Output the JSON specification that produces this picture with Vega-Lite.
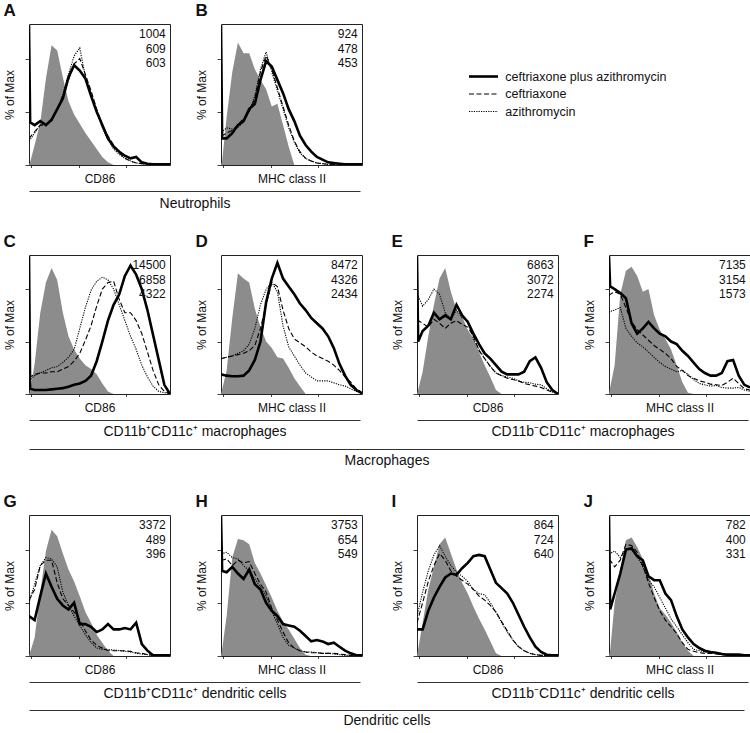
{
"$schema": "https://vega.github.io/schema/vega-lite/v6.json",
"padding": {"left": 3, "top": 1, "right": 2, "bottom": 0},
"background": "white",
"datasets": {
"stats": [
{"p":"A","t":"1004\n609\n603"},{"p":"B","t":"924\n478\n453"},{"p":"C","t":"14500\n6858\n4322"},{"p":"D","t":"8472\n4326\n2434"},{"p":"E","t":"6863\n3072\n2274"},{"p":"F","t":"7135\n3154\n1573"},{"p":"G","t":"3372\n489\n396"},{"p":"H","t":"3753\n654\n549"},{"p":"I","t":"864\n724\n640"},{"p":"J","t":"782\n400\n331"}
],
"legend": [
{"s":"combo","label":"ceftriaxone plus azithromycin"},{"s":"cef","label":"ceftriaxone"},{"s":"azi","label":"azithromycin"}
],
"curves": [
{"p":"A","x":0,"iso":0,"combo":105,"cef":20,"azi":18},
{"p":"A","x":0.8,"iso":2,"combo":32,"cef":21,"azi":19},
{"p":"A","x":4,"iso":15,"combo":30,"cef":25,"azi":24},
{"p":"A","x":8,"iso":32,"combo":33,"cef":30,"azi":30},
{"p":"A","x":12,"iso":65,"combo":30,"cef":30,"azi":31},
{"p":"A","x":16,"iso":90,"combo":34,"cef":33,"azi":33},
{"p":"A","x":20,"iso":86,"combo":42,"cef":42,"azi":42},
{"p":"A","x":24,"iso":66,"combo":50,"cef":52,"azi":53},
{"p":"A","x":28,"iso":48,"combo":66,"cef":64,"azi":68},
{"p":"A","x":32,"iso":38,"combo":75,"cef":76,"azi":82},
{"p":"A","x":36,"iso":31,"combo":71,"cef":80,"azi":88},
{"p":"A","x":40,"iso":24,"combo":65,"cef":68,"azi":66},
{"p":"A","x":44,"iso":18,"combo":52,"cef":56,"azi":54},
{"p":"A","x":48,"iso":12,"combo":40,"cef":42,"azi":40},
{"p":"A","x":52,"iso":6,"combo":30,"cef":30,"azi":28},
{"p":"A","x":56,"iso":2,"combo":20,"cef":22,"azi":19},
{"p":"A","x":60,"iso":0,"combo":14,"cef":15,"azi":12},
{"p":"A","x":64,"iso":0,"combo":10,"cef":9,"azi":8},
{"p":"A","x":68,"iso":0,"combo":7,"cef":5,"azi":5},
{"p":"A","x":72,"iso":0,"combo":5,"cef":3,"azi":3},
{"p":"A","x":76,"iso":0,"combo":6,"cef":1.5,"azi":1.5},
{"p":"A","x":80,"iso":0,"combo":2,"cef":1,"azi":1},
{"p":"A","x":84,"iso":0,"combo":1,"cef":0.5,"azi":0.5},
{"p":"A","x":88,"iso":0,"combo":0.5,"cef":0.5,"azi":0.5},
{"p":"A","x":92,"iso":0,"combo":0.5,"cef":0.5,"azi":0.5},
{"p":"A","x":96,"iso":0,"combo":0.5,"cef":0.5,"azi":0.5},
{"p":"A","x":100,"iso":0,"combo":0.5,"cef":0.5,"azi":0.5},
{"p":"B","x":0,"iso":0,"combo":105,"cef":22,"azi":25},
{"p":"B","x":0.8,"iso":3,"combo":20,"cef":22,"azi":25},
{"p":"B","x":4,"iso":36,"combo":20,"cef":24,"azi":28},
{"p":"B","x":8,"iso":70,"combo":24,"cef":26,"azi":27},
{"p":"B","x":12,"iso":92,"combo":30,"cef":30,"azi":28},
{"p":"B","x":16,"iso":84,"combo":33,"cef":35,"azi":33},
{"p":"B","x":20,"iso":84,"combo":42,"cef":40,"azi":40},
{"p":"B","x":24,"iso":72,"combo":46,"cef":50,"azi":52},
{"p":"B","x":28,"iso":64,"combo":64,"cef":70,"azi":72},
{"p":"B","x":32,"iso":57,"combo":78,"cef":82,"azi":85},
{"p":"B","x":36,"iso":44,"combo":74,"cef":72,"azi":70},
{"p":"B","x":40,"iso":46,"combo":64,"cef":58,"azi":56},
{"p":"B","x":44,"iso":30,"combo":54,"cef":44,"azi":42},
{"p":"B","x":48,"iso":14,"combo":42,"cef":30,"azi":28},
{"p":"B","x":52,"iso":0,"combo":33,"cef":18,"azi":17},
{"p":"B","x":56,"iso":0,"combo":22,"cef":10,"azi":9},
{"p":"B","x":60,"iso":0,"combo":15,"cef":5,"azi":5},
{"p":"B","x":64,"iso":0,"combo":10,"cef":3,"azi":3},
{"p":"B","x":68,"iso":0,"combo":6,"cef":1.5,"azi":1.5},
{"p":"B","x":72,"iso":0,"combo":4,"cef":1,"azi":1},
{"p":"B","x":76,"iso":0,"combo":2,"cef":0.5,"azi":0.5},
{"p":"B","x":80,"iso":0,"combo":1.5,"cef":0.5,"azi":0.5},
{"p":"B","x":84,"iso":0,"combo":1,"cef":0.5,"azi":0.5},
{"p":"B","x":88,"iso":0,"combo":0.5,"cef":0.5,"azi":0.5},
{"p":"B","x":92,"iso":0,"combo":0.5,"cef":0.5,"azi":0.5},
{"p":"B","x":96,"iso":0,"combo":0.5,"cef":0.5,"azi":0.5},
{"p":"B","x":100,"iso":0,"combo":0.5,"cef":0.5,"azi":0.5},
{"p":"C","x":0,"iso":0,"combo":105,"cef":12,"azi":10},
{"p":"C","x":0.8,"iso":2,"combo":4,"cef":13,"azi":11},
{"p":"C","x":4,"iso":23,"combo":3,"cef":15,"azi":14},
{"p":"C","x":8,"iso":62,"combo":3,"cef":16,"azi":16},
{"p":"C","x":12,"iso":85,"combo":3,"cef":16,"azi":18},
{"p":"C","x":16,"iso":96,"combo":3.5,"cef":17,"azi":20},
{"p":"C","x":20,"iso":87,"combo":4,"cef":17,"azi":21},
{"p":"C","x":24,"iso":62,"combo":4.5,"cef":19,"azi":24},
{"p":"C","x":28,"iso":44,"combo":5.5,"cef":21,"azi":28},
{"p":"C","x":32,"iso":34,"combo":7,"cef":25,"azi":34},
{"p":"C","x":36,"iso":27,"combo":8,"cef":31,"azi":50},
{"p":"C","x":40,"iso":22,"combo":10,"cef":41,"azi":66},
{"p":"C","x":44,"iso":19,"combo":14,"cef":52,"azi":79},
{"p":"C","x":48,"iso":15,"combo":25,"cef":67,"azi":86},
{"p":"C","x":52,"iso":8,"combo":40,"cef":80,"azi":89},
{"p":"C","x":56,"iso":2,"combo":56,"cef":85,"azi":87},
{"p":"C","x":60,"iso":0,"combo":68,"cef":86,"azi":80},
{"p":"C","x":64,"iso":0,"combo":76,"cef":72,"azi":68},
{"p":"C","x":68,"iso":0,"combo":90,"cef":62,"azi":56},
{"p":"C","x":72,"iso":0,"combo":98,"cef":62,"azi":44},
{"p":"C","x":76,"iso":0,"combo":91,"cef":56,"azi":34},
{"p":"C","x":80,"iso":0,"combo":80,"cef":46,"azi":22},
{"p":"C","x":84,"iso":0,"combo":64,"cef":32,"azi":13},
{"p":"C","x":88,"iso":0,"combo":45,"cef":18,"azi":6},
{"p":"C","x":92,"iso":0,"combo":26,"cef":7,"azi":2},
{"p":"C","x":96,"iso":0,"combo":7,"cef":2,"azi":1},
{"p":"C","x":100,"iso":0,"combo":0,"cef":0,"azi":0.5},
{"p":"D","x":0,"iso":0,"combo":15,"cef":27,"azi":27},
{"p":"D","x":4,"iso":18,"combo":14,"cef":28,"azi":28},
{"p":"D","x":8,"iso":58,"combo":13.5,"cef":29,"azi":29},
{"p":"D","x":12,"iso":92,"combo":13.5,"cef":30,"azi":31},
{"p":"D","x":16,"iso":88,"combo":14,"cef":31,"azi":33},
{"p":"D","x":20,"iso":85,"combo":18,"cef":33,"azi":38},
{"p":"D","x":24,"iso":65,"combo":26,"cef":37,"azi":50},
{"p":"D","x":28,"iso":51,"combo":40,"cef":50,"azi":68},
{"p":"D","x":32,"iso":40,"combo":70,"cef":68,"azi":80},
{"p":"D","x":36,"iso":35,"combo":88,"cef":85,"azi":85},
{"p":"D","x":40,"iso":28,"combo":100,"cef":82,"azi":78},
{"p":"D","x":44,"iso":27,"combo":88,"cef":64,"azi":52},
{"p":"D","x":48,"iso":20,"combo":82,"cef":50,"azi":36},
{"p":"D","x":52,"iso":12,"combo":76,"cef":42,"azi":29},
{"p":"D","x":56,"iso":6,"combo":69,"cef":39,"azi":22},
{"p":"D","x":60,"iso":0,"combo":64,"cef":36,"azi":16},
{"p":"D","x":64,"iso":0,"combo":58,"cef":32,"azi":13},
{"p":"D","x":68,"iso":0,"combo":54,"cef":29,"azi":10},
{"p":"D","x":72,"iso":0,"combo":50,"cef":27,"azi":10},
{"p":"D","x":76,"iso":0,"combo":44,"cef":25,"azi":10},
{"p":"D","x":80,"iso":0,"combo":35,"cef":22,"azi":8.5},
{"p":"D","x":84,"iso":0,"combo":23,"cef":18,"azi":7},
{"p":"D","x":88,"iso":0,"combo":14,"cef":13,"azi":6},
{"p":"D","x":92,"iso":0,"combo":7,"cef":9,"azi":4},
{"p":"D","x":96,"iso":0,"combo":3,"cef":4,"azi":2},
{"p":"D","x":100,"iso":0,"combo":0.5,"cef":1,"azi":0.5},
{"p":"E","x":0,"iso":0,"combo":105,"cef":56,"azi":76},
{"p":"E","x":0.8,"iso":3,"combo":40,"cef":56,"azi":75},
{"p":"E","x":4,"iso":17,"combo":48,"cef":54,"azi":67},
{"p":"E","x":8,"iso":44,"combo":52,"cef":51,"azi":72},
{"p":"E","x":12,"iso":68,"combo":62,"cef":57,"azi":80},
{"p":"E","x":16,"iso":88,"combo":57,"cef":54,"azi":76},
{"p":"E","x":20,"iso":96,"combo":60,"cef":50,"azi":62},
{"p":"E","x":24,"iso":78,"combo":57,"cef":54,"azi":57},
{"p":"E","x":28,"iso":64,"combo":68,"cef":56,"azi":64},
{"p":"E","x":32,"iso":59,"combo":60,"cef":53,"azi":58},
{"p":"E","x":36,"iso":49,"combo":55,"cef":51,"azi":56},
{"p":"E","x":40,"iso":42,"combo":46,"cef":44,"azi":42},
{"p":"E","x":44,"iso":32,"combo":38,"cef":33,"azi":34},
{"p":"E","x":48,"iso":22,"combo":31,"cef":27,"azi":27},
{"p":"E","x":52,"iso":13,"combo":27,"cef":21,"azi":21},
{"p":"E","x":56,"iso":3,"combo":22,"cef":16,"azi":16},
{"p":"E","x":60,"iso":0,"combo":17,"cef":14,"azi":14},
{"p":"E","x":64,"iso":0,"combo":15,"cef":12,"azi":13},
{"p":"E","x":68,"iso":0,"combo":15,"cef":11,"azi":12},
{"p":"E","x":72,"iso":0,"combo":15,"cef":10,"azi":10},
{"p":"E","x":76,"iso":0,"combo":17,"cef":8,"azi":9},
{"p":"E","x":80,"iso":0,"combo":25,"cef":7,"azi":8.5},
{"p":"E","x":84,"iso":0,"combo":28,"cef":6,"azi":7.5},
{"p":"E","x":88,"iso":0,"combo":20,"cef":5,"azi":7},
{"p":"E","x":92,"iso":0,"combo":9,"cef":3,"azi":4},
{"p":"E","x":96,"iso":0,"combo":3,"cef":1.5,"azi":1.5},
{"p":"E","x":100,"iso":0,"combo":0,"cef":0.5,"azi":0.5},
{"p":"F","x":0,"iso":0,"combo":105,"cef":75,"azi":62},
{"p":"F","x":0.8,"iso":5,"combo":82,"cef":76,"azi":63},
{"p":"F","x":4,"iso":22,"combo":80,"cef":78,"azi":64},
{"p":"F","x":8,"iso":76,"combo":77,"cef":76,"azi":66},
{"p":"F","x":12,"iso":94,"combo":73,"cef":66,"azi":50},
{"p":"F","x":16,"iso":97,"combo":54,"cef":55,"azi":44},
{"p":"F","x":20,"iso":90,"combo":46,"cef":49,"azi":39},
{"p":"F","x":24,"iso":78,"combo":50,"cef":45,"azi":36},
{"p":"F","x":28,"iso":80,"combo":55,"cef":41,"azi":32},
{"p":"F","x":32,"iso":60,"combo":50,"cef":37,"azi":28},
{"p":"F","x":36,"iso":49,"combo":46,"cef":34,"azi":24},
{"p":"F","x":40,"iso":42,"combo":44,"cef":31,"azi":21},
{"p":"F","x":44,"iso":34,"combo":40,"cef":27,"azi":19},
{"p":"F","x":48,"iso":22,"combo":38,"cef":21,"azi":17},
{"p":"F","x":52,"iso":9,"combo":33,"cef":18,"azi":18},
{"p":"F","x":56,"iso":1,"combo":29,"cef":14,"azi":15},
{"p":"F","x":60,"iso":0,"combo":24,"cef":12,"azi":11},
{"p":"F","x":64,"iso":0,"combo":19,"cef":10,"azi":8},
{"p":"F","x":68,"iso":0,"combo":16,"cef":9,"azi":7},
{"p":"F","x":72,"iso":0,"combo":14,"cef":7.5,"azi":6},
{"p":"F","x":76,"iso":0,"combo":14,"cef":7,"azi":6.5},
{"p":"F","x":80,"iso":0,"combo":16,"cef":6.5,"azi":5},
{"p":"F","x":84,"iso":0,"combo":25,"cef":9,"azi":4.5},
{"p":"F","x":88,"iso":0,"combo":26,"cef":12,"azi":4.5},
{"p":"F","x":92,"iso":0,"combo":14,"cef":8,"azi":5},
{"p":"F","x":96,"iso":0,"combo":7,"cef":4,"azi":3},
{"p":"F","x":100,"iso":0,"combo":5,"cef":3,"azi":2},
{"p":"G","x":0,"iso":0,"combo":30,"cef":42,"azi":40},
{"p":"G","x":4,"iso":14,"combo":27,"cef":50,"azi":54},
{"p":"G","x":8,"iso":48,"combo":45,"cef":68,"azi":68},
{"p":"G","x":12,"iso":79,"combo":62,"cef":72,"azi":74},
{"p":"G","x":16,"iso":95,"combo":52,"cef":72,"azi":73},
{"p":"G","x":20,"iso":90,"combo":43,"cef":55,"azi":67},
{"p":"G","x":24,"iso":77,"combo":38,"cef":43,"azi":48},
{"p":"G","x":28,"iso":65,"combo":35,"cef":38,"azi":38},
{"p":"G","x":32,"iso":56,"combo":40,"cef":33,"azi":30},
{"p":"G","x":36,"iso":45,"combo":24,"cef":27,"azi":23},
{"p":"G","x":40,"iso":33,"combo":24,"cef":19,"azi":16},
{"p":"G","x":44,"iso":25,"combo":22,"cef":12,"azi":10},
{"p":"G","x":48,"iso":16,"combo":18,"cef":8,"azi":6},
{"p":"G","x":52,"iso":10,"combo":20,"cef":6,"azi":5},
{"p":"G","x":56,"iso":4,"combo":24,"cef":4,"azi":5},
{"p":"G","x":60,"iso":0,"combo":20,"cef":4,"azi":4.5},
{"p":"G","x":64,"iso":0,"combo":20,"cef":4,"azi":4},
{"p":"G","x":68,"iso":0,"combo":21,"cef":4,"azi":3.5},
{"p":"G","x":72,"iso":0,"combo":20,"cef":3.5,"azi":3},
{"p":"G","x":76,"iso":0,"combo":25,"cef":2.5,"azi":2},
{"p":"G","x":80,"iso":0,"combo":9,"cef":2,"azi":1.5},
{"p":"G","x":84,"iso":0,"combo":4,"cef":1,"azi":1},
{"p":"G","x":88,"iso":0,"combo":0.5,"cef":0.5,"azi":0.5},
{"p":"G","x":92,"iso":0,"combo":0.5,"cef":0.5,"azi":0.5},
{"p":"G","x":96,"iso":0,"combo":0.5,"cef":0.5,"azi":0.5},
{"p":"G","x":100,"iso":0,"combo":0.5,"cef":0.5,"azi":0.5},
{"p":"H","x":0,"iso":0,"combo":105,"cef":72,"azi":77},
{"p":"H","x":0.8,"iso":5,"combo":64,"cef":72,"azi":77},
{"p":"H","x":4,"iso":30,"combo":63,"cef":73,"azi":78},
{"p":"H","x":8,"iso":74,"combo":67,"cef":68,"azi":74},
{"p":"H","x":12,"iso":88,"combo":62,"cef":72,"azi":73},
{"p":"H","x":16,"iso":87,"combo":58,"cef":70,"azi":68},
{"p":"H","x":20,"iso":84,"combo":65,"cef":71,"azi":64},
{"p":"H","x":24,"iso":70,"combo":54,"cef":62,"azi":58},
{"p":"H","x":28,"iso":62,"combo":50,"cef":54,"azi":52},
{"p":"H","x":32,"iso":53,"combo":40,"cef":48,"azi":45},
{"p":"H","x":36,"iso":44,"combo":34,"cef":36,"azi":34},
{"p":"H","x":40,"iso":34,"combo":30,"cef":27,"azi":24},
{"p":"H","x":44,"iso":26,"combo":24,"cef":18,"azi":14},
{"p":"H","x":48,"iso":20,"combo":23,"cef":10,"azi":8},
{"p":"H","x":52,"iso":13,"combo":22,"cef":6,"azi":6},
{"p":"H","x":56,"iso":6,"combo":19,"cef":4,"azi":4},
{"p":"H","x":60,"iso":1,"combo":15,"cef":3,"azi":3},
{"p":"H","x":64,"iso":0,"combo":11,"cef":2.5,"azi":3},
{"p":"H","x":68,"iso":0,"combo":12,"cef":2.5,"azi":2.5},
{"p":"H","x":72,"iso":0,"combo":11,"cef":2,"azi":2},
{"p":"H","x":76,"iso":0,"combo":9,"cef":2,"azi":2},
{"p":"H","x":80,"iso":0,"combo":10,"cef":2,"azi":1.5},
{"p":"H","x":84,"iso":0,"combo":7,"cef":1.5,"azi":1},
{"p":"H","x":88,"iso":0,"combo":4,"cef":1,"azi":0.5},
{"p":"H","x":92,"iso":0,"combo":2,"cef":0.5,"azi":0.5},
{"p":"H","x":96,"iso":0,"combo":0.5,"cef":0.5,"azi":0.5},
{"p":"H","x":100,"iso":0,"combo":0.5,"cef":0.5,"azi":0.5},
{"p":"I","x":0,"iso":0,"combo":20,"cef":25,"azi":30},
{"p":"I","x":4,"iso":25,"combo":20,"cef":40,"azi":48},
{"p":"I","x":8,"iso":50,"combo":34,"cef":56,"azi":64},
{"p":"I","x":12,"iso":67,"combo":44,"cef":68,"azi":76},
{"p":"I","x":16,"iso":84,"combo":52,"cef":77,"azi":83},
{"p":"I","x":20,"iso":89,"combo":59,"cef":72,"azi":75},
{"p":"I","x":24,"iso":77,"combo":62,"cef":64,"azi":68},
{"p":"I","x":28,"iso":65,"combo":61,"cef":60,"azi":63},
{"p":"I","x":32,"iso":55,"combo":66,"cef":57,"azi":60},
{"p":"I","x":36,"iso":47,"combo":70,"cef":54,"azi":56},
{"p":"I","x":40,"iso":37,"combo":75,"cef":50,"azi":50},
{"p":"I","x":44,"iso":28,"combo":76,"cef":45,"azi":47},
{"p":"I","x":48,"iso":20,"combo":75,"cef":42,"azi":46},
{"p":"I","x":52,"iso":11,"combo":65,"cef":38,"azi":40},
{"p":"I","x":56,"iso":2,"combo":55,"cef":33,"azi":33},
{"p":"I","x":60,"iso":0,"combo":51,"cef":26,"azi":25},
{"p":"I","x":64,"iso":0,"combo":47,"cef":19,"azi":18},
{"p":"I","x":68,"iso":0,"combo":40,"cef":12,"azi":12},
{"p":"I","x":72,"iso":0,"combo":31,"cef":7,"azi":7},
{"p":"I","x":76,"iso":0,"combo":22,"cef":4,"azi":4},
{"p":"I","x":80,"iso":0,"combo":14,"cef":2,"azi":2},
{"p":"I","x":84,"iso":0,"combo":7,"cef":1,"azi":1},
{"p":"I","x":88,"iso":0,"combo":3,"cef":0.5,"azi":0.5},
{"p":"I","x":92,"iso":0,"combo":1,"cef":0.5,"azi":0.5},
{"p":"I","x":96,"iso":0,"combo":0.5,"cef":0.5,"azi":0.5},
{"p":"I","x":100,"iso":0,"combo":0.5,"cef":0.5,"azi":0.5},
{"p":"J","x":0,"iso":0,"combo":105,"cef":72,"azi":77},
{"p":"J","x":0.8,"iso":4,"combo":35,"cef":72,"azi":77},
{"p":"J","x":4,"iso":40,"combo":47,"cef":67,"azi":79},
{"p":"J","x":8,"iso":64,"combo":62,"cef":72,"azi":74},
{"p":"J","x":12,"iso":87,"combo":80,"cef":84,"azi":80},
{"p":"J","x":16,"iso":89,"combo":81,"cef":83,"azi":80},
{"p":"J","x":20,"iso":82,"combo":75,"cef":78,"azi":75},
{"p":"J","x":24,"iso":73,"combo":72,"cef":68,"azi":67},
{"p":"J","x":28,"iso":62,"combo":60,"cef":55,"azi":57},
{"p":"J","x":32,"iso":47,"combo":57,"cef":44,"azi":52},
{"p":"J","x":36,"iso":36,"combo":57,"cef":34,"azi":44},
{"p":"J","x":40,"iso":31,"combo":47,"cef":27,"azi":36},
{"p":"J","x":44,"iso":25,"combo":42,"cef":22,"azi":28},
{"p":"J","x":48,"iso":18,"combo":30,"cef":17,"azi":22},
{"p":"J","x":52,"iso":10,"combo":20,"cef":10,"azi":16},
{"p":"J","x":56,"iso":4,"combo":14,"cef":5,"azi":10},
{"p":"J","x":60,"iso":0,"combo":9,"cef":3.5,"azi":5},
{"p":"J","x":64,"iso":0,"combo":6,"cef":2.5,"azi":4},
{"p":"J","x":68,"iso":0,"combo":4,"cef":2,"azi":3},
{"p":"J","x":72,"iso":0,"combo":3,"cef":2,"azi":2.5},
{"p":"J","x":76,"iso":0,"combo":2.5,"cef":1.5,"azi":2},
{"p":"J","x":80,"iso":0,"combo":1.5,"cef":1,"azi":2},
{"p":"J","x":84,"iso":0,"combo":1,"cef":0.5,"azi":1.5},
{"p":"J","x":88,"iso":0,"combo":1,"cef":0.5,"azi":1},
{"p":"J","x":92,"iso":0,"combo":1,"cef":0.5,"azi":0.5},
{"p":"J","x":96,"iso":0,"combo":0.5,"cef":0.5,"azi":0.5},
{"p":"J","x":100,"iso":0,"combo":0.5,"cef":0.5,"azi":0.5}
]
},
"spacing": 22,
"vconcat": [
{"hconcat": [
 {"vconcat": [
  {"hconcat": [
   {"title": "A", "width": 141, "height": 141, "layer": [
    {"data": {"name": "curves"}, "transform": [{"filter": "datum.p == 'A'"}, {"fold": ["iso"], "as": ["s", "v"]}], "mark": {"type": "area", "color": "#8c8c8c", "clip": true}, "encoding": {"x": {"field": "x", "type": "quantitative", "scale": {"domain": [0, 100], "nice": false}, "axis": {"title": "CD86", "values": [1.4,3.3,4.9,6.3,7.4,8.5,9.4,15.5,19,21.6,23.5,25.1,26.5,27.6,28.7,29.6,35.7,39.2,41.8,43.7,45.3,46.7,47.8,48.9,49.8,55.9,59.4,62,63.9,65.5,66.9,68,69.1,70,76.1,79.6,82.2,84.1,85.7,87.1,88.2,89.3,90.2,96.3,99.8], "tickSize": {"condition": {"test": "indexof([9.4,29.6,49.8,70,90.2], datum.value) >= 0", "value": 5}, "value": 2.5}}}, "y": {"field": "v", "type": "quantitative", "scale": {"domain": [0, 106], "nice": false}, "axis": {"title": "% of Max", "values": [0, 20, 40, 60, 80, 100]}}}},
    {"data": {"name": "curves"}, "transform": [{"filter": "datum.p == 'A'"}, {"fold": ["azi", "cef"], "as": ["s", "v"]}], "mark": {"type": "line", "color": "#000", "strokeWidth": 1.1, "clip": true}, "encoding": {"x": {"field": "x", "type": "quantitative"}, "y": {"field": "v", "type": "quantitative"}, "strokeDash": {"field": "s", "type": "nominal", "scale": {"domain": ["cef", "azi"], "range": [[5, 2.5], [1.2, 1.2]]}, "legend": null}}},
    {"data": {"name": "curves"}, "transform": [{"filter": "datum.p == 'A'"}, {"fold": ["combo"], "as": ["s", "v"]}], "mark": {"type": "line", "color": "#000", "strokeWidth": 2.6, "clip": true}, "encoding": {"x": {"field": "x", "type": "quantitative"}, "y": {"field": "v", "type": "quantitative"}}},
    {"data": {"name": "stats"}, "transform": [{"filter": "datum.p == 'A'"}], "mark": {"type": "text", "align": "right", "baseline": "top", "lineBreak": "\n", "fontSize": 12, "lineHeight": 14.5, "color": "#111"}, "encoding": {"x": {"datum": 97}, "y": {"datum": 102}, "text": {"field": "t"}}}
   ]},
   {"title": "B", "width": 141, "height": 141, "layer": [
    {"data": {"name": "curves"}, "transform": [{"filter": "datum.p == 'B'"}, {"fold": ["iso"], "as": ["s", "v"]}], "mark": {"type": "area", "color": "#8c8c8c", "clip": true}, "encoding": {"x": {"field": "x", "type": "quantitative", "scale": {"domain": [0, 100], "nice": false}, "axis": {"title": "MHC class II", "values": [1.4,3.3,4.9,6.3,7.4,8.5,9.4,15.5,19,21.6,23.5,25.1,26.5,27.6,28.7,29.6,35.7,39.2,41.8,43.7,45.3,46.7,47.8,48.9,49.8,55.9,59.4,62,63.9,65.5,66.9,68,69.1,70,76.1,79.6,82.2,84.1,85.7,87.1,88.2,89.3,90.2,96.3,99.8], "tickSize": {"condition": {"test": "indexof([9.4,29.6,49.8,70,90.2], datum.value) >= 0", "value": 5}, "value": 2.5}}}, "y": {"field": "v", "type": "quantitative", "scale": {"domain": [0, 106], "nice": false}, "axis": {"title": "% of Max", "values": [0, 20, 40, 60, 80, 100]}}}},
    {"data": {"name": "curves"}, "transform": [{"filter": "datum.p == 'B'"}, {"fold": ["azi", "cef"], "as": ["s", "v"]}], "mark": {"type": "line", "color": "#000", "strokeWidth": 1.1, "clip": true}, "encoding": {"x": {"field": "x", "type": "quantitative"}, "y": {"field": "v", "type": "quantitative"}, "strokeDash": {"field": "s", "type": "nominal", "scale": {"domain": ["cef", "azi"], "range": [[5, 2.5], [1.2, 1.2]]}, "legend": null}}},
    {"data": {"name": "curves"}, "transform": [{"filter": "datum.p == 'B'"}, {"fold": ["combo"], "as": ["s", "v"]}], "mark": {"type": "line", "color": "#000", "strokeWidth": 2.6, "clip": true}, "encoding": {"x": {"field": "x", "type": "quantitative"}, "y": {"field": "v", "type": "quantitative"}}},
    {"data": {"name": "stats"}, "transform": [{"filter": "datum.p == 'B'"}], "mark": {"type": "text", "align": "right", "baseline": "top", "lineBreak": "\n", "fontSize": 12, "lineHeight": 14.5, "color": "#111"}, "encoding": {"x": {"datum": 97}, "y": {"datum": 102}, "text": {"field": "t"}}}
   ]}
  ], "spacing": 24},
  {"width": 331, "height": 1, "view": {"stroke": null}, "data": {"values": [{"u": 0}]}, "mark": {"type": "point", "opacity": 0}, "encoding": {"x": {"field": "u", "type": "quantitative", "scale": {"domain": [0, 1]}, "axis": {"domain": true, "domainColor": "#333", "domainWidth": 1, "ticks": false, "title": "Neutrophils", "titleFontSize": 14, "titlePadding": 5}}, "y": {"field": "u", "type": "quantitative", "scale": {"domain": [0, 1]}, "axis": {"title": ".", "titleOpacity": 0, "values": [0], "tickOpacity": 0}}}}
 ], "spacing": 2},
 {"width": 203, "height": 140, "view": {"stroke": null}, "data": {"name": "legend"}, "layer": [
  {"transform": [{"filter": "datum.s == 'combo'"}], "mark": {"type": "rule", "color": "#000", "strokeWidth": 2.6}, "encoding": {"x": {"datum": 0, "type": "quantitative", "scale": {"domain": [0, 7]}, "axis": null}, "x2": {"datum": 1}, "y": {"field": "s", "type": "nominal", "scale": {"type": "point", "domain": ["t0", "t1", "t2", "combo", "cef", "azi", "b0", "b1", "b2"], "padding": 0}, "axis": null}}},
  {"transform": [{"filter": "datum.s != 'combo'"}], "mark": {"type": "rule", "color": "#000", "strokeWidth": 1.1}, "encoding": {"x": {"datum": 0, "type": "quantitative"}, "x2": {"datum": 1}, "y": {"field": "s", "type": "nominal"}, "strokeDash": {"field": "s", "type": "nominal", "scale": {"domain": ["cef", "azi"], "range": [[5, 2.5], [1.2, 1.2]]}, "legend": null}}},
  {"mark": {"type": "text", "align": "left", "baseline": "middle", "fontSize": 12.5, "color": "#111"}, "encoding": {"x": {"datum": 1.25, "type": "quantitative"}, "y": {"field": "s", "type": "nominal"}, "text": {"field": "label"}}}
 ]}
], "spacing": 104},
{"spacing": 25, "vconcat": [
{"vconcat": [
 {"hconcat": [
  {"vconcat": [
   {"hconcat": [
    {"title": "C", "width": 141, "height": 139, "layer": [
     {"data": {"name": "curves"}, "transform": [{"filter": "datum.p == 'C'"}, {"fold": ["iso"], "as": ["s", "v"]}], "mark": {"type": "area", "color": "#8c8c8c", "clip": true}, "encoding": {"x": {"field": "x", "type": "quantitative", "scale": {"domain": [0, 100], "nice": false}, "axis": {"title": "CD86", "values": [1.4,3.3,4.9,6.3,7.4,8.5,9.4,15.5,19,21.6,23.5,25.1,26.5,27.6,28.7,29.6,35.7,39.2,41.8,43.7,45.3,46.7,47.8,48.9,49.8,55.9,59.4,62,63.9,65.5,66.9,68,69.1,70,76.1,79.6,82.2,84.1,85.7,87.1,88.2,89.3,90.2,96.3,99.8], "tickSize": {"condition": {"test": "indexof([9.4,29.6,49.8,70,90.2], datum.value) >= 0", "value": 5}, "value": 2.5}}}, "y": {"field": "v", "type": "quantitative", "scale": {"domain": [0, 106], "nice": false}, "axis": {"title": "% of Max", "values": [0, 20, 40, 60, 80, 100]}}}},
     {"data": {"name": "curves"}, "transform": [{"filter": "datum.p == 'C'"}, {"fold": ["azi", "cef"], "as": ["s", "v"]}], "mark": {"type": "line", "color": "#000", "strokeWidth": 1.1, "clip": true}, "encoding": {"x": {"field": "x", "type": "quantitative"}, "y": {"field": "v", "type": "quantitative"}, "strokeDash": {"field": "s", "type": "nominal", "scale": {"domain": ["cef", "azi"], "range": [[5, 2.5], [1.2, 1.2]]}, "legend": null}}},
     {"data": {"name": "curves"}, "transform": [{"filter": "datum.p == 'C'"}, {"fold": ["combo"], "as": ["s", "v"]}], "mark": {"type": "line", "color": "#000", "strokeWidth": 2.6, "clip": true}, "encoding": {"x": {"field": "x", "type": "quantitative"}, "y": {"field": "v", "type": "quantitative"}}},
     {"data": {"name": "stats"}, "transform": [{"filter": "datum.p == 'C'"}], "mark": {"type": "text", "align": "right", "baseline": "top", "lineBreak": "\n", "fontSize": 12, "lineHeight": 14.5, "color": "#111"}, "encoding": {"x": {"datum": 97}, "y": {"datum": 102}, "text": {"field": "t"}}}
    ]},
    {"title": "D", "width": 141, "height": 139, "layer": [
     {"data": {"name": "curves"}, "transform": [{"filter": "datum.p == 'D'"}, {"fold": ["iso"], "as": ["s", "v"]}], "mark": {"type": "area", "color": "#8c8c8c", "clip": true}, "encoding": {"x": {"field": "x", "type": "quantitative", "scale": {"domain": [0, 100], "nice": false}, "axis": {"title": "MHC class II", "values": [1.4,3.3,4.9,6.3,7.4,8.5,9.4,15.5,19,21.6,23.5,25.1,26.5,27.6,28.7,29.6,35.7,39.2,41.8,43.7,45.3,46.7,47.8,48.9,49.8,55.9,59.4,62,63.9,65.5,66.9,68,69.1,70,76.1,79.6,82.2,84.1,85.7,87.1,88.2,89.3,90.2,96.3,99.8], "tickSize": {"condition": {"test": "indexof([9.4,29.6,49.8,70,90.2], datum.value) >= 0", "value": 5}, "value": 2.5}}}, "y": {"field": "v", "type": "quantitative", "scale": {"domain": [0, 106], "nice": false}, "axis": {"title": "% of Max", "values": [0, 20, 40, 60, 80, 100]}}}},
     {"data": {"name": "curves"}, "transform": [{"filter": "datum.p == 'D'"}, {"fold": ["azi", "cef"], "as": ["s", "v"]}], "mark": {"type": "line", "color": "#000", "strokeWidth": 1.1, "clip": true}, "encoding": {"x": {"field": "x", "type": "quantitative"}, "y": {"field": "v", "type": "quantitative"}, "strokeDash": {"field": "s", "type": "nominal", "scale": {"domain": ["cef", "azi"], "range": [[5, 2.5], [1.2, 1.2]]}, "legend": null}}},
     {"data": {"name": "curves"}, "transform": [{"filter": "datum.p == 'D'"}, {"fold": ["combo"], "as": ["s", "v"]}], "mark": {"type": "line", "color": "#000", "strokeWidth": 2.6, "clip": true}, "encoding": {"x": {"field": "x", "type": "quantitative"}, "y": {"field": "v", "type": "quantitative"}}},
     {"data": {"name": "stats"}, "transform": [{"filter": "datum.p == 'D'"}], "mark": {"type": "text", "align": "right", "baseline": "top", "lineBreak": "\n", "fontSize": 12, "lineHeight": 14.5, "color": "#111"}, "encoding": {"x": {"datum": 97}, "y": {"datum": 102}, "text": {"field": "t"}}}
    ]}
   ], "spacing": 24},
   {"width": 331, "height": 1, "view": {"stroke": null}, "data": {"values": [{"u": 0}]}, "mark": {"type": "point", "opacity": 0}, "encoding": {"x": {"field": "u", "type": "quantitative", "scale": {"domain": [0, 1]}, "axis": {"domain": true, "domainColor": "#333", "domainWidth": 1, "ticks": false, "title": "CD11b⁺CD11c⁺ macrophages", "titleFontSize": 14, "titlePadding": 4}}, "y": {"field": "u", "type": "quantitative", "scale": {"domain": [0, 1]}, "axis": {"title": ".", "titleOpacity": 0, "values": [0], "tickOpacity": 0}}}}
  ], "spacing": 2},
  {"vconcat": [
   {"hconcat": [
    {"title": "E", "width": 141, "height": 139, "layer": [
     {"data": {"name": "curves"}, "transform": [{"filter": "datum.p == 'E'"}, {"fold": ["iso"], "as": ["s", "v"]}], "mark": {"type": "area", "color": "#8c8c8c", "clip": true}, "encoding": {"x": {"field": "x", "type": "quantitative", "scale": {"domain": [0, 100], "nice": false}, "axis": {"title": "CD86", "values": [1.4,3.3,4.9,6.3,7.4,8.5,9.4,15.5,19,21.6,23.5,25.1,26.5,27.6,28.7,29.6,35.7,39.2,41.8,43.7,45.3,46.7,47.8,48.9,49.8,55.9,59.4,62,63.9,65.5,66.9,68,69.1,70,76.1,79.6,82.2,84.1,85.7,87.1,88.2,89.3,90.2,96.3,99.8], "tickSize": {"condition": {"test": "indexof([9.4,29.6,49.8,70,90.2], datum.value) >= 0", "value": 5}, "value": 2.5}}}, "y": {"field": "v", "type": "quantitative", "scale": {"domain": [0, 106], "nice": false}, "axis": {"title": "% of Max", "values": [0, 20, 40, 60, 80, 100]}}}},
     {"data": {"name": "curves"}, "transform": [{"filter": "datum.p == 'E'"}, {"fold": ["azi", "cef"], "as": ["s", "v"]}], "mark": {"type": "line", "color": "#000", "strokeWidth": 1.1, "clip": true}, "encoding": {"x": {"field": "x", "type": "quantitative"}, "y": {"field": "v", "type": "quantitative"}, "strokeDash": {"field": "s", "type": "nominal", "scale": {"domain": ["cef", "azi"], "range": [[5, 2.5], [1.2, 1.2]]}, "legend": null}}},
     {"data": {"name": "curves"}, "transform": [{"filter": "datum.p == 'E'"}, {"fold": ["combo"], "as": ["s", "v"]}], "mark": {"type": "line", "color": "#000", "strokeWidth": 2.6, "clip": true}, "encoding": {"x": {"field": "x", "type": "quantitative"}, "y": {"field": "v", "type": "quantitative"}}},
     {"data": {"name": "stats"}, "transform": [{"filter": "datum.p == 'E'"}], "mark": {"type": "text", "align": "right", "baseline": "top", "lineBreak": "\n", "fontSize": 12, "lineHeight": 14.5, "color": "#111"}, "encoding": {"x": {"datum": 97}, "y": {"datum": 102}, "text": {"field": "t"}}}
    ]},
    {"title": "F", "width": 141, "height": 139, "layer": [
     {"data": {"name": "curves"}, "transform": [{"filter": "datum.p == 'F'"}, {"fold": ["iso"], "as": ["s", "v"]}], "mark": {"type": "area", "color": "#8c8c8c", "clip": true}, "encoding": {"x": {"field": "x", "type": "quantitative", "scale": {"domain": [0, 100], "nice": false}, "axis": {"title": "MHC class II", "values": [1.4,3.3,4.9,6.3,7.4,8.5,9.4,15.5,19,21.6,23.5,25.1,26.5,27.6,28.7,29.6,35.7,39.2,41.8,43.7,45.3,46.7,47.8,48.9,49.8,55.9,59.4,62,63.9,65.5,66.9,68,69.1,70,76.1,79.6,82.2,84.1,85.7,87.1,88.2,89.3,90.2,96.3,99.8], "tickSize": {"condition": {"test": "indexof([9.4,29.6,49.8,70,90.2], datum.value) >= 0", "value": 5}, "value": 2.5}}}, "y": {"field": "v", "type": "quantitative", "scale": {"domain": [0, 106], "nice": false}, "axis": {"title": "% of Max", "values": [0, 20, 40, 60, 80, 100]}}}},
     {"data": {"name": "curves"}, "transform": [{"filter": "datum.p == 'F'"}, {"fold": ["azi", "cef"], "as": ["s", "v"]}], "mark": {"type": "line", "color": "#000", "strokeWidth": 1.1, "clip": true}, "encoding": {"x": {"field": "x", "type": "quantitative"}, "y": {"field": "v", "type": "quantitative"}, "strokeDash": {"field": "s", "type": "nominal", "scale": {"domain": ["cef", "azi"], "range": [[5, 2.5], [1.2, 1.2]]}, "legend": null}}},
     {"data": {"name": "curves"}, "transform": [{"filter": "datum.p == 'F'"}, {"fold": ["combo"], "as": ["s", "v"]}], "mark": {"type": "line", "color": "#000", "strokeWidth": 2.6, "clip": true}, "encoding": {"x": {"field": "x", "type": "quantitative"}, "y": {"field": "v", "type": "quantitative"}}},
     {"data": {"name": "stats"}, "transform": [{"filter": "datum.p == 'F'"}], "mark": {"type": "text", "align": "right", "baseline": "top", "lineBreak": "\n", "fontSize": 12, "lineHeight": 14.5, "color": "#111"}, "encoding": {"x": {"datum": 97}, "y": {"datum": 102}, "text": {"field": "t"}}}
    ]}
   ], "spacing": 24},
   {"width": 331, "height": 1, "view": {"stroke": null}, "data": {"values": [{"u": 0}]}, "mark": {"type": "point", "opacity": 0}, "encoding": {"x": {"field": "u", "type": "quantitative", "scale": {"domain": [0, 1]}, "axis": {"domain": true, "domainColor": "#333", "domainWidth": 1, "ticks": false, "title": "CD11b⁻CD11c⁺ macrophages", "titleFontSize": 14, "titlePadding": 4}}, "y": {"field": "u", "type": "quantitative", "scale": {"domain": [0, 1]}, "axis": {"title": ".", "titleOpacity": 0, "values": [0], "tickOpacity": 0}}}}
  ], "spacing": 2}
 ], "spacing": 28},
 {"width": 715, "height": 1, "view": {"stroke": null}, "data": {"values": [{"u": 0}]}, "mark": {"type": "point", "opacity": 0}, "encoding": {"x": {"field": "u", "type": "quantitative", "scale": {"domain": [0, 1]}, "axis": {"domain": true, "domainColor": "#333", "domainWidth": 1, "ticks": false, "title": "Macrophages", "titleFontSize": 14, "titlePadding": 4}}, "y": {"field": "u", "type": "quantitative", "scale": {"domain": [0, 1]}, "axis": {"title": ".", "titleOpacity": 0, "values": [0], "tickOpacity": 0}}}}
], "spacing": 8},
{"vconcat": [
 {"hconcat": [
  {"vconcat": [
   {"hconcat": [
    {"title": "G", "width": 141, "height": 141, "layer": [
     {"data": {"name": "curves"}, "transform": [{"filter": "datum.p == 'G'"}, {"fold": ["iso"], "as": ["s", "v"]}], "mark": {"type": "area", "color": "#8c8c8c", "clip": true}, "encoding": {"x": {"field": "x", "type": "quantitative", "scale": {"domain": [0, 100], "nice": false}, "axis": {"title": "CD86", "values": [1.4,3.3,4.9,6.3,7.4,8.5,9.4,15.5,19,21.6,23.5,25.1,26.5,27.6,28.7,29.6,35.7,39.2,41.8,43.7,45.3,46.7,47.8,48.9,49.8,55.9,59.4,62,63.9,65.5,66.9,68,69.1,70,76.1,79.6,82.2,84.1,85.7,87.1,88.2,89.3,90.2,96.3,99.8], "tickSize": {"condition": {"test": "indexof([9.4,29.6,49.8,70,90.2], datum.value) >= 0", "value": 5}, "value": 2.5}}}, "y": {"field": "v", "type": "quantitative", "scale": {"domain": [0, 106], "nice": false}, "axis": {"title": "% of Max", "values": [0, 20, 40, 60, 80, 100]}}}},
     {"data": {"name": "curves"}, "transform": [{"filter": "datum.p == 'G'"}, {"fold": ["azi", "cef"], "as": ["s", "v"]}], "mark": {"type": "line", "color": "#000", "strokeWidth": 1.1, "clip": true}, "encoding": {"x": {"field": "x", "type": "quantitative"}, "y": {"field": "v", "type": "quantitative"}, "strokeDash": {"field": "s", "type": "nominal", "scale": {"domain": ["cef", "azi"], "range": [[5, 2.5], [1.2, 1.2]]}, "legend": null}}},
     {"data": {"name": "curves"}, "transform": [{"filter": "datum.p == 'G'"}, {"fold": ["combo"], "as": ["s", "v"]}], "mark": {"type": "line", "color": "#000", "strokeWidth": 2.6, "clip": true}, "encoding": {"x": {"field": "x", "type": "quantitative"}, "y": {"field": "v", "type": "quantitative"}}},
     {"data": {"name": "stats"}, "transform": [{"filter": "datum.p == 'G'"}], "mark": {"type": "text", "align": "right", "baseline": "top", "lineBreak": "\n", "fontSize": 12, "lineHeight": 14.5, "color": "#111"}, "encoding": {"x": {"datum": 97}, "y": {"datum": 102}, "text": {"field": "t"}}}
    ]},
    {"title": "H", "width": 141, "height": 141, "layer": [
     {"data": {"name": "curves"}, "transform": [{"filter": "datum.p == 'H'"}, {"fold": ["iso"], "as": ["s", "v"]}], "mark": {"type": "area", "color": "#8c8c8c", "clip": true}, "encoding": {"x": {"field": "x", "type": "quantitative", "scale": {"domain": [0, 100], "nice": false}, "axis": {"title": "MHC class II", "values": [1.4,3.3,4.9,6.3,7.4,8.5,9.4,15.5,19,21.6,23.5,25.1,26.5,27.6,28.7,29.6,35.7,39.2,41.8,43.7,45.3,46.7,47.8,48.9,49.8,55.9,59.4,62,63.9,65.5,66.9,68,69.1,70,76.1,79.6,82.2,84.1,85.7,87.1,88.2,89.3,90.2,96.3,99.8], "tickSize": {"condition": {"test": "indexof([9.4,29.6,49.8,70,90.2], datum.value) >= 0", "value": 5}, "value": 2.5}}}, "y": {"field": "v", "type": "quantitative", "scale": {"domain": [0, 106], "nice": false}, "axis": {"title": "% of Max", "values": [0, 20, 40, 60, 80, 100]}}}},
     {"data": {"name": "curves"}, "transform": [{"filter": "datum.p == 'H'"}, {"fold": ["azi", "cef"], "as": ["s", "v"]}], "mark": {"type": "line", "color": "#000", "strokeWidth": 1.1, "clip": true}, "encoding": {"x": {"field": "x", "type": "quantitative"}, "y": {"field": "v", "type": "quantitative"}, "strokeDash": {"field": "s", "type": "nominal", "scale": {"domain": ["cef", "azi"], "range": [[5, 2.5], [1.2, 1.2]]}, "legend": null}}},
     {"data": {"name": "curves"}, "transform": [{"filter": "datum.p == 'H'"}, {"fold": ["combo"], "as": ["s", "v"]}], "mark": {"type": "line", "color": "#000", "strokeWidth": 2.6, "clip": true}, "encoding": {"x": {"field": "x", "type": "quantitative"}, "y": {"field": "v", "type": "quantitative"}}},
     {"data": {"name": "stats"}, "transform": [{"filter": "datum.p == 'H'"}], "mark": {"type": "text", "align": "right", "baseline": "top", "lineBreak": "\n", "fontSize": 12, "lineHeight": 14.5, "color": "#111"}, "encoding": {"x": {"datum": 97}, "y": {"datum": 102}, "text": {"field": "t"}}}
    ]}
   ], "spacing": 24},
   {"width": 331, "height": 1, "view": {"stroke": null}, "data": {"values": [{"u": 0}]}, "mark": {"type": "point", "opacity": 0}, "encoding": {"x": {"field": "u", "type": "quantitative", "scale": {"domain": [0, 1]}, "axis": {"domain": true, "domainColor": "#333", "domainWidth": 1, "ticks": false, "title": "CD11b⁺CD11c⁺ dendritic cells", "titleFontSize": 14, "titlePadding": 4}}, "y": {"field": "u", "type": "quantitative", "scale": {"domain": [0, 1]}, "axis": {"title": ".", "titleOpacity": 0, "values": [0], "tickOpacity": 0}}}}
  ], "spacing": 2},
  {"vconcat": [
   {"hconcat": [
    {"title": "I", "width": 141, "height": 141, "layer": [
     {"data": {"name": "curves"}, "transform": [{"filter": "datum.p == 'I'"}, {"fold": ["iso"], "as": ["s", "v"]}], "mark": {"type": "area", "color": "#8c8c8c", "clip": true}, "encoding": {"x": {"field": "x", "type": "quantitative", "scale": {"domain": [0, 100], "nice": false}, "axis": {"title": "CD86", "values": [1.4,3.3,4.9,6.3,7.4,8.5,9.4,15.5,19,21.6,23.5,25.1,26.5,27.6,28.7,29.6,35.7,39.2,41.8,43.7,45.3,46.7,47.8,48.9,49.8,55.9,59.4,62,63.9,65.5,66.9,68,69.1,70,76.1,79.6,82.2,84.1,85.7,87.1,88.2,89.3,90.2,96.3,99.8], "tickSize": {"condition": {"test": "indexof([9.4,29.6,49.8,70,90.2], datum.value) >= 0", "value": 5}, "value": 2.5}}}, "y": {"field": "v", "type": "quantitative", "scale": {"domain": [0, 106], "nice": false}, "axis": {"title": "% of Max", "values": [0, 20, 40, 60, 80, 100]}}}},
     {"data": {"name": "curves"}, "transform": [{"filter": "datum.p == 'I'"}, {"fold": ["azi", "cef"], "as": ["s", "v"]}], "mark": {"type": "line", "color": "#000", "strokeWidth": 1.1, "clip": true}, "encoding": {"x": {"field": "x", "type": "quantitative"}, "y": {"field": "v", "type": "quantitative"}, "strokeDash": {"field": "s", "type": "nominal", "scale": {"domain": ["cef", "azi"], "range": [[5, 2.5], [1.2, 1.2]]}, "legend": null}}},
     {"data": {"name": "curves"}, "transform": [{"filter": "datum.p == 'I'"}, {"fold": ["combo"], "as": ["s", "v"]}], "mark": {"type": "line", "color": "#000", "strokeWidth": 2.6, "clip": true}, "encoding": {"x": {"field": "x", "type": "quantitative"}, "y": {"field": "v", "type": "quantitative"}}},
     {"data": {"name": "stats"}, "transform": [{"filter": "datum.p == 'I'"}], "mark": {"type": "text", "align": "right", "baseline": "top", "lineBreak": "\n", "fontSize": 12, "lineHeight": 14.5, "color": "#111"}, "encoding": {"x": {"datum": 97}, "y": {"datum": 102}, "text": {"field": "t"}}}
    ]},
    {"title": "J", "width": 141, "height": 141, "layer": [
     {"data": {"name": "curves"}, "transform": [{"filter": "datum.p == 'J'"}, {"fold": ["iso"], "as": ["s", "v"]}], "mark": {"type": "area", "color": "#8c8c8c", "clip": true}, "encoding": {"x": {"field": "x", "type": "quantitative", "scale": {"domain": [0, 100], "nice": false}, "axis": {"title": "MHC class II", "values": [1.4,3.3,4.9,6.3,7.4,8.5,9.4,15.5,19,21.6,23.5,25.1,26.5,27.6,28.7,29.6,35.7,39.2,41.8,43.7,45.3,46.7,47.8,48.9,49.8,55.9,59.4,62,63.9,65.5,66.9,68,69.1,70,76.1,79.6,82.2,84.1,85.7,87.1,88.2,89.3,90.2,96.3,99.8], "tickSize": {"condition": {"test": "indexof([9.4,29.6,49.8,70,90.2], datum.value) >= 0", "value": 5}, "value": 2.5}}}, "y": {"field": "v", "type": "quantitative", "scale": {"domain": [0, 106], "nice": false}, "axis": {"title": "% of Max", "values": [0, 20, 40, 60, 80, 100]}}}},
     {"data": {"name": "curves"}, "transform": [{"filter": "datum.p == 'J'"}, {"fold": ["azi", "cef"], "as": ["s", "v"]}], "mark": {"type": "line", "color": "#000", "strokeWidth": 1.1, "clip": true}, "encoding": {"x": {"field": "x", "type": "quantitative"}, "y": {"field": "v", "type": "quantitative"}, "strokeDash": {"field": "s", "type": "nominal", "scale": {"domain": ["cef", "azi"], "range": [[5, 2.5], [1.2, 1.2]]}, "legend": null}}},
     {"data": {"name": "curves"}, "transform": [{"filter": "datum.p == 'J'"}, {"fold": ["combo"], "as": ["s", "v"]}], "mark": {"type": "line", "color": "#000", "strokeWidth": 2.6, "clip": true}, "encoding": {"x": {"field": "x", "type": "quantitative"}, "y": {"field": "v", "type": "quantitative"}}},
     {"data": {"name": "stats"}, "transform": [{"filter": "datum.p == 'J'"}], "mark": {"type": "text", "align": "right", "baseline": "top", "lineBreak": "\n", "fontSize": 12, "lineHeight": 14.5, "color": "#111"}, "encoding": {"x": {"datum": 97}, "y": {"datum": 102}, "text": {"field": "t"}}}
    ]}
   ], "spacing": 24},
   {"width": 331, "height": 1, "view": {"stroke": null}, "data": {"values": [{"u": 0}]}, "mark": {"type": "point", "opacity": 0}, "encoding": {"x": {"field": "u", "type": "quantitative", "scale": {"domain": [0, 1]}, "axis": {"domain": true, "domainColor": "#333", "domainWidth": 1, "ticks": false, "title": "CD11b⁻CD11c⁺ dendritic cells", "titleFontSize": 14, "titlePadding": 4}}, "y": {"field": "u", "type": "quantitative", "scale": {"domain": [0, 1]}, "axis": {"title": ".", "titleOpacity": 0, "values": [0], "tickOpacity": 0}}}}
  ], "spacing": 2}
 ], "spacing": 28},
 {"width": 715, "height": 1, "view": {"stroke": null}, "data": {"values": [{"u": 0}]}, "mark": {"type": "point", "opacity": 0}, "encoding": {"x": {"field": "u", "type": "quantitative", "scale": {"domain": [0, 1]}, "axis": {"domain": true, "domainColor": "#333", "domainWidth": 1, "ticks": false, "title": "Dendritic cells", "titleFontSize": 14, "titlePadding": 3}}, "y": {"field": "u", "type": "quantitative", "scale": {"domain": [0, 1]}, "axis": {"title": ".", "titleOpacity": 0, "values": [0], "tickOpacity": 0}}}}
], "spacing": 7}
]}
],
"resolve": {"scale": {"x": "independent", "y": "independent"}},
"config": {
 "font": "Liberation Sans",
 "view": {"stroke": "#222", "strokeWidth": 1},
 "axis": {"grid": false, "labels": false, "domain": false, "tickColor": "#111", "tickWidth": 0.8, "titleFont": "Liberation Sans", "titleFontWeight": "normal", "titleFontSize": 12, "titleColor": "#111"},
 "axisY": {"tickSize": 4, "titlePadding": 8},
 "axisX": {"titlePadding": 6},
 "title": {"anchor": "start", "fontSize": 17, "fontWeight": "bold", "font": "Liberation Sans", "offset": 4, "color": "#111"}
}
}
